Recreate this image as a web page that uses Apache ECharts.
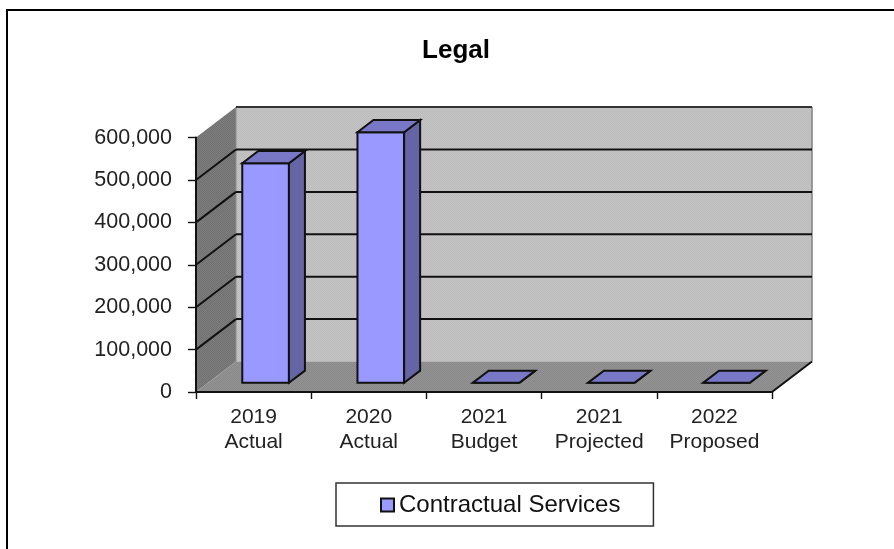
<!DOCTYPE html>
<html>
<head>
<meta charset="utf-8">
<style>html,body{margin:0;padding:0;background:#fff}#chart{width:894px;height:549px}</style>
<script src="https://cdn.jsdelivr.net/npm/echarts@6/dist/echarts.min.js"></script>
</head>
<body>
<div id="chart"></div>
<script>
const categories = ['2019\nActual', '2020\nActual', '2021\nBudget', '2021\nProjected', '2022\nProposed'];
const contractualServices = [518000, 591000, 0, 0, 0];
const valueTicks = [0, 100000, 200000, 300000, 400000, 500000, 600000];
const seriesName = 'Contractual Services';

// Oblique projection of the chart box: screen offset from front plane to back wall
const depthX = 40, depthY = -30.5;
// Bars occupy this slice of the box depth, and this share of a category band
const barDepthStart = 0.3, barDepthEnd = 0.7, barShare = 0.405;

const ink = '#111';
const lineW = 2;

function dither(a, b) {
  const c = document.createElement('canvas');
  c.width = c.height = 2;
  const g = c.getContext('2d');
  g.fillStyle = a; g.fillRect(0, 0, 2, 2);
  g.fillStyle = b; g.fillRect(0, 0, 1, 1); g.fillRect(1, 1, 1, 1);
  return { image: c, repeat: 'repeat' };
}
const backFill = dither('#c4c4c4', '#bcbcbc');
const sideFill = dither('#7e7e7e', '#707070');
const floorFill = dither('#949494', '#888888');

function poly(points, fill, stroke, width) {
  return {
    type: 'polygon',
    shape: { points },
    style: { fill, stroke: stroke || null, lineWidth: width || 0, lineJoin: 'miter' }
  };
}
function seg(a, b, stroke, width) {
  return {
    type: 'line',
    shape: { x1: a[0], y1: a[1], x2: b[0], y2: b[1] },
    style: { stroke, lineWidth: width }
  };
}

function renderBox(params, api) {
  const band = api.size([1, 0])[0];
  const n = categories.length;
  const low = valueTicks[0], high = valueTicks[valueTicks.length - 1];
  const x0 = api.coord([0, low])[0] - band / 2;
  const x1 = api.coord([n - 1, low])[0] + band / 2;
  const yLow = api.coord([0, low])[1];
  const yHigh = api.coord([0, high])[1];
  const bx0 = x0 + depthX, bx1 = x1 + depthX;
  const children = [
    poly([[bx0, yHigh + depthY], [bx1, yHigh + depthY], [bx1, yLow + depthY], [bx0, yLow + depthY]], backFill),
    poly([[x0, yHigh], [bx0, yHigh + depthY], [bx0, yLow + depthY], [x0, yLow]], sideFill),
    poly([[x0, yLow], [bx0, yLow + depthY], [bx1, yLow + depthY], [x1, yLow]], floorFill),
    seg([bx1, yHigh + depthY], [bx1, yLow + depthY], '#808080', 1.5),
    seg([bx0, yHigh + depthY], [bx0, yLow + depthY], '#8c8c8c', 1),
    seg([x1, yLow], [bx1, yLow + depthY], ink, lineW)
  ];
  valueTicks.forEach(function (v) {
    if (v === low) return;
    const y = api.coord([0, v])[1];
    if (v !== high) children.push(seg([x0, y], [bx0, y + depthY], ink, lineW));
    children.push(seg([bx0, y + depthY], [bx1, y + depthY], v === high ? '#333' : ink, lineW));
  });
  return { type: 'group', children };
}

function renderBar(params, api) {
  const idx = api.value(0), val = api.value(1);
  const band = api.size([1, 0])[0];
  const w = band * barShare;
  const base = api.coord([idx, 0]);
  const top = api.coord([idx, val]);
  const sx = base[0] - w / 2 + depthX * barDepthStart;
  const ex = sx + w;
  const offY = depthY * barDepthStart;
  const yb = base[1] + offY, yt = top[1] + offY;
  const dx = depthX * (barDepthEnd - barDepthStart);
  const dy = depthY * (barDepthEnd - barDepthStart);
  return {
    type: 'group',
    children: [
      poly([[sx, yt], [ex, yt], [ex, yb], [sx, yb]], '#9999ff', ink, lineW),
      poly([[ex, yt], [ex + dx, yt + dy], [ex + dx, yb + dy], [ex, yb]], '#6565a6', ink, lineW),
      poly([[sx, yt], [sx + dx, yt + dy], [ex + dx, yt + dy], [ex, yt]], '#7878c6', ink, lineW)
    ]
  };
}

const chart = echarts.init(document.getElementById('chart'), null, { renderer: 'canvas' });
chart.setOption({
  animation: false,
  backgroundColor: '#fff',
  textStyle: { fontFamily: '"Liberation Sans", Arial, sans-serif' },
  title: {
    text: 'Legal',
    left: 451,
    top: 33,
    textAlign: 'center',
    textStyle: { fontFamily: '"Liberation Sans", Arial, sans-serif', fontSize: 26, fontWeight: 'bold', color: '#000' }
  },
  grid: { left: 196, width: 576, top: 137.6, height: 254.4, containLabel: false },
  xAxis: {
    type: 'category',
    data: categories,
    z: 10,
    axisLine: { lineStyle: { color: ink, width: lineW } },
    axisTick: { show: true, length: 7, lineStyle: { color: ink, width: 1.4 } },
    axisLabel: { interval: 0, margin: 12, fontSize: 21, lineHeight: 25.5, color: '#222' },
    splitLine: { show: false }
  },
  yAxis: {
    type: 'value',
    min: valueTicks[0],
    max: valueTicks[valueTicks.length - 1],
    interval: valueTicks[1] - valueTicks[0],
    z: 10,
    axisLine: { show: true, lineStyle: { color: ink, width: lineW } },
    axisTick: { show: true, length: 8, lineStyle: { color: ink, width: 1.4 } },
    axisLabel: {
      margin: 24,
      fontSize: 21.5,
      color: '#222',
      formatter: function (v) { return v.toLocaleString('en-US'); }
    },
    splitLine: { show: false }
  },
  legend: {
    left: 336,
    top: 483,
    data: [seriesName],
    icon: 'rect',
    itemWidth: 13,
    itemHeight: 13,
    padding: [10, 33, 9, 44],
    backgroundColor: '#fff',
    borderColor: '#333',
    borderWidth: 1.5,
    itemStyle: { color: '#9999ff', borderColor: ink, borderWidth: 2 },
    textStyle: { fontSize: 24, color: '#111' }
  },
  graphic: [{
    type: 'polyline',
    silent: true,
    z: 100,
    shape: { points: [[7, 549], [7, 10], [894, 10]] },
    style: { fill: null, stroke: '#000', lineWidth: 2 }
  }],
  series: [
    {
      name: 'box',
      type: 'custom',
      coordinateSystem: 'cartesian2d',
      clip: false,
      silent: true,
      z: 1,
      renderItem: renderBox,
      data: [[0, 0]]
    },
    {
      name: seriesName,
      type: 'custom',
      coordinateSystem: 'cartesian2d',
      clip: false,
      z: 3,
      itemStyle: { color: '#9999ff' },
      renderItem: renderBar,
      encode: { x: 0, y: 1 },
      data: contractualServices.map(function (v, i) { return [i, v]; })
    }
  ]
});
</script>
</body>
</html>
